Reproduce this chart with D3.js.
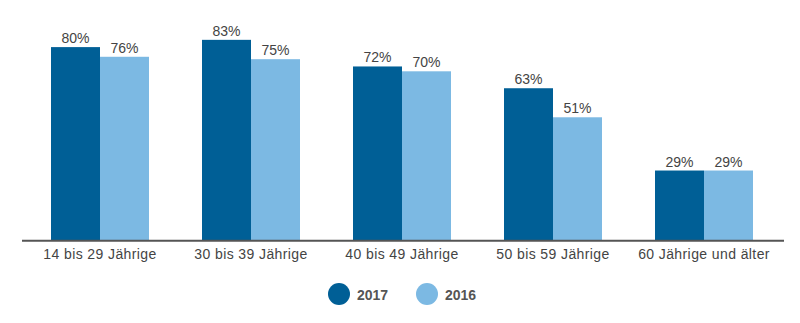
<!DOCTYPE html>
<html>
<head>
<meta charset="utf-8">
<script src="https://cdn.jsdelivr.net/npm/d3@7"></script>
<style>
  html, body { margin: 0; padding: 0; background: #fff; }
  svg { display: block; font-family: "Liberation Sans", Arial, Helvetica, sans-serif; }
</style>
</head>
<body>
<svg id="chart" width="800" height="323"></svg>
<script>
// Age groups and shares per year (percent)
const categories = ["14 bis 29 Jährige", "30 bis 39 Jährige", "40 bis 49 Jährige", "50 bis 59 Jährige", "60 Jährige und älter"];
const seriesNames = ["2017", "2016"];
const values2017 = [80, 83, 72, 63, 29];
const values2016 = [76, 75, 70, 51, 29];
const seriesColors = ["#005f96", "#7cb9e3"];

const svg = d3.select("#chart");
const baseY = 240.7;

const x = d3.scaleBand()
  .domain(categories)
  .range([24.5, 779.5])
  .paddingInner(0.351)
  .paddingOuter(0.1755);

const xSub = d3.scaleBand()
  .domain(seriesNames)
  .range([0, x.bandwidth()])
  .padding(0);

const y = d3.scaleLinear()
  .domain([0, 100])
  .range([baseY, baseY - 242]);

const rows = categories.map((c, i) => ({
  cat: c,
  items: [
    { key: "2017", value: values2017[i] },
    { key: "2016", value: values2016[i] }
  ]
}));

const color = d3.scaleOrdinal().domain(seriesNames).range(seriesColors);

const groups = svg.append("g").selectAll("g")
  .data(rows)
  .join("g")
  .attr("transform", d => `translate(${x(d.cat)},0)`);

groups.selectAll("rect")
  .data(d => d.items)
  .join("rect")
  .attr("x", d => xSub(d.key))
  .attr("width", xSub.bandwidth())
  .attr("y", d => y(d.value))
  .attr("height", d => y(0) - y(d.value))
  .attr("fill", d => color(d.key));

groups.selectAll("text.val")
  .data(d => d.items)
  .join("text")
  .attr("class", "val")
  .attr("x", d => xSub(d.key) + xSub.bandwidth() / 2)
  .attr("y", d => y(d.value) - 4)
  .attr("text-anchor", "middle")
  .attr("font-size", 14)
  .attr("fill", "#444")
  .text(d => d.value + "%");

// Baseline axis with category labels
const axis = d3.axisBottom(x).tickSize(0).tickPadding(8);
const axisG = svg.append("g")
  .attr("transform", `translate(0,${baseY})`)
  .call(axis);
axisG.select(".domain").remove();
axisG.selectAll("text")
  .attr("font-size", 14)
  .attr("letter-spacing", "0.4px")
  .attr("font-family", "Liberation Sans, Arial, sans-serif")
  .attr("fill", "#444");

svg.append("line")
  .attr("x1", 22).attr("x2", 784)
  .attr("y1", baseY).attr("y2", baseY)
  .attr("stroke", "#555")
  .attr("stroke-width", 2);

// Legend
const legendX = [339, 427];
const legend = svg.append("g").selectAll("g")
  .data(seriesNames)
  .join("g")
  .attr("transform", (d, i) => `translate(${legendX[i]},294)`);

legend.append("circle")
  .attr("r", 11)
  .attr("fill", d => color(d));

legend.append("text")
  .attr("x", 18)
  .attr("y", 5.5)
  .attr("font-size", 14)
  .attr("font-weight", "bold")
  .attr("fill", "#555")
  .text(d => d);
</script>
</body>
</html>
